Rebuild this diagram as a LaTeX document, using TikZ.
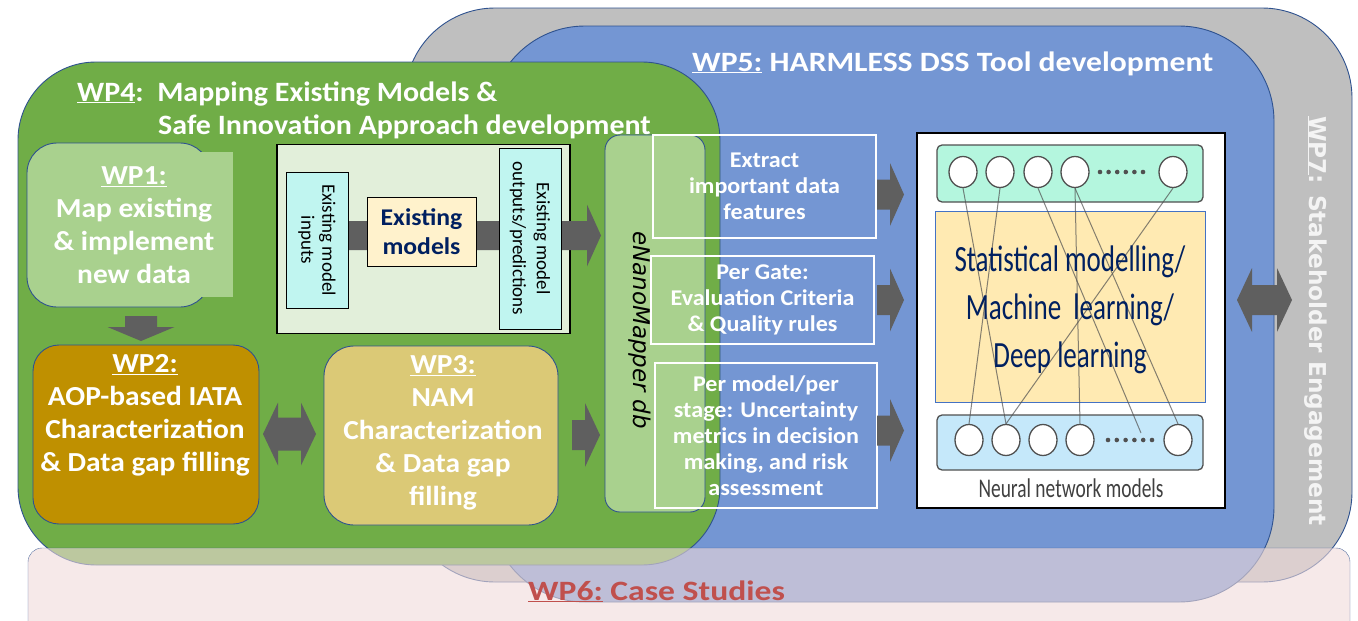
\documentclass[tikz,border=0pt]{standalone}
\usepackage{fontspec}
\setmainfont{Carlito}
\newfontfamily\cbw{Carlito}[FakeStretch=1.07]
\newfontfamily\cbt{Carlito}[FakeStretch=1.13]
\newfontfamily\cbr{Carlito}[FakeStretch=1.2]
\newfontfamily\dejavu{DejaVu Sans}
\usetikzlibrary{calc,shapes.geometric}

\definecolor{grayfill}{RGB}{191,191,191}
\definecolor{bluefill}{RGB}{116,150,211}
\definecolor{greenfill}{RGB}{112,173,71}
\definecolor{lightgreen}{RGB}{169,209,142}
\definecolor{wp2gold}{RGB}{191,144,0}
\definecolor{wp3fill}{RGB}{219,201,118}
\definecolor{panelfill}{RGB}{226,239,218}
\definecolor{cyanfill}{RGB}{192,245,240}
\definecolor{modelfill}{RGB}{255,242,204}
\definecolor{navy}{RGB}{0,32,96}
\definecolor{arrowgray}{RGB}{95,95,95}
\definecolor{bordblue}{RGB}{47,82,143}
\definecolor{pinkfill}{RGB}{240,218,218}
\definecolor{wp6red}{RGB}{192,80,77}
\definecolor{wp7text}{RGB}{244,244,244}
\definecolor{topbarfill}{RGB}{180,246,222}
\definecolor{botbarfill}{RGB}{197,232,250}
\definecolor{midfill}{RGB}{255,234,178}
\definecolor{midedge}{RGB}{68,114,196}
\definecolor{nnedge}{RGB}{80,80,80}
\definecolor{nntext}{RGB}{64,64,64}

\newcommand\myfs[2]{\fontsize{#1}{#2}\selectfont}
\newcommand\blockR[5]{\fill[arrowgray] ($(#1)+(0,-#4)$) -- ($(#2)+(-#3,-#4)$) -- ($(#2)+(-#3,-#5)$) -- (#2) -- ($(#2)+(-#3,#5)$) -- ($(#2)+(-#3,#4)$) -- ($(#1)+(0,#4)$) -- cycle;}
\newcommand\blockD[5]{\fill[arrowgray] ($(#1)+(-#4,0)$) -- ($(#2)+(-#4,-#3)$) -- ($(#2)+(-#5,-#3)$) -- (#2) -- ($(#2)+(#5,-#3)$) -- ($(#2)+(#4,-#3)$) -- ($(#1)+(#4,0)$) -- cycle;}
\newcommand\blockLR[5]{\fill[arrowgray] (#1) -- ($(#1)+(#3,-#5)$) -- ($(#1)+(#3,-#4)$) -- ($(#2)+(-#3,-#4)$) -- ($(#2)+(-#3,-#5)$) -- (#2) -- ($(#2)+(-#3,#5)$) -- ($(#2)+(-#3,#4)$) -- ($(#1)+(#3,#4)$) -- ($(#1)+(#3,#5)$) -- cycle;}

\begin{document}
\begin{tikzpicture}[x=1pt,y=-1pt,
  wpbox/.style={draw=bordblue, line width=0.9pt, inner sep=0pt},
  whitebox/.style={draw=white, line width=1.3pt, inner sep=0pt, text=white, font=\cbw\bfseries\myfs{22.5}{26}, align=center},
  cyanbox/.style={draw=black, line width=1pt, fill=cyanfill, inner sep=0pt, align=center},
  wptext/.style={text=white, font=\cbw\bfseries\myfs{27.5}{33}, align=center, inner sep=0pt},
  titletext/.style={text=white, font=\cbw\bfseries\myfs{28}{33}, anchor=base west, inner sep=0pt},
  nncirc/.style={ellipse, draw=nnedge, line width=1.3pt, fill=white, minimum width=28pt, minimum height=31pt, inner sep=0pt},
  nnbar/.style={draw=nnedge, line width=1.3pt, rounded corners=5pt, minimum width=266pt, inner sep=0pt},
  nnline/.style={draw=nnedge, draw opacity=0.7, line width=1pt}
]
\useasboundingbox (0,0) rectangle (1358,621);

% big work-package areas
\node[wpbox, fill=grayfill, rounded corners=90pt, minimum width=947pt, minimum height=574pt] (wp7) at (878.5,295) {};
\node[wpbox, fill=bluefill, rounded corners=95pt, minimum width=784pt, minimum height=576pt] (wp5) at (882,314) {};
\node[wpbox, fill=greenfill, rounded corners=78pt, minimum width=702pt, minimum height=503pt] (wp4) at (369,313.5) {};

% titles
\node[titletext, font=\cbt\bfseries\myfs{28}{33}] (wp5t) at (692,71) {\underline{WP5:} HARMLESS DSS Tool development};
\node[titletext] (wp4ta) at (77,101) {\underline{WP4}:\ \ Mapping Existing Models \&};
\node[titletext] (wp4tb) at (158,134) {Safe Innovation Approach development};
\node[rotate=-90, text=wp7text, font=\dejavu\bfseries\myfs{23.2}{28}, inner sep=0pt] (wp7t) at (1316,321) {\underline{WP7}: Stakeholder Engagement};

% WP1
\node[wpbox, fill=lightgreen, rounded corners=30pt, minimum width=183pt, minimum height=164pt] (wp1) at (118.5,225) {};
\fill[lightgreen] ($(wp1.north east)+(-9,9)$) rectangle ($(wp1.south east)+(23,-10)$);
\node[wptext] (wp1t) at (134,225) {\underline{WP1:}\\Map existing\\\& implement\\new data};

% WP2 / WP3
\node[wpbox, fill=wp2gold, rounded corners=26pt, minimum width=226pt, minimum height=179pt] (wp2) at (146,434.5) {};
\node[wptext] (wp2t) at (145,415) {\underline{WP2:}\\AOP-based IATA\\Characterization\\\& Data gap filling};
\node[wpbox, fill=wp3fill, rounded corners=30pt, minimum width=234pt, minimum height=179pt] (wp3) at (441,435.5) {};
\node[wptext] (wp3t) at (443,433) {\underline{WP3:}\\NAM\\Characterization\\\& Data gap\\filling};

\coordinate (d1) at (141,316); \coordinate (d2) at (141,341);
\blockD{d1}{d2}{14}{16}{33.5}
\coordinate (l1) at (263,434); \coordinate (r1) at (316,434);
\blockLR{l1}{r1}{15}{16.5}{31.5}
\coordinate (c1s) at (572,435); \coordinate (c1t) at (600,435);
\blockR{c1s}{c1t}{15}{15}{32}

% existing models panel
\node[draw=black, line width=1.2pt, fill=panelfill, minimum width=293pt, minimum height=189pt, inner sep=0pt] (panel) at (423.5,239) {};
\coordinate (ps) at (348,235.5); \coordinate (pt) at (601,235.5);
\blockR{ps}{pt}{14}{14.5}{31}
\node[cyanbox, rotate=-90, minimum width=136pt, minimum height=62pt, font=\myfs{19}{21}] (inp) at (317,240) {Existing model\\inputs};
\node[draw=black, line width=1pt, fill=modelfill, minimum width=109pt, minimum height=69pt, text=navy, font=\cbw\bfseries\myfs{24}{29}, align=center, inner sep=0pt] (exm) at (421.5,231.5) {Existing\\models};
\node[cyanbox, rotate=-90, minimum width=181pt, minimum height=62pt, font=\myfs{19}{24}] (outp) at (530,238.5) {Existing model\\outputs/predictions};

% eNanoMapper
\node[wpbox, fill=lightgreen, rounded corners=15pt, minimum width=100pt, minimum height=377pt] (enm) at (655,323.5) {};
\node[rotate=-90, font=\dejavu\itshape\myfs{23}{27}, inner sep=0pt] (enmt) at (640,330) {eNanoMapper db};

% feature boxes
\node[whitebox, minimum width=223pt, minimum height=103pt] (f1) at (764.5,186.5) {Extract\\important data\\features};
\node[whitebox, minimum width=223pt, minimum height=88pt] (f2) at (762.5,300) {Per Gate:\\Evaluation Criteria\\\& Quality rules};
\node[whitebox, minimum width=222pt, minimum height=145pt] (f3) at (766,435.5) {Per model/per\\stage: Uncertainty\\metrics in decision\\making, and risk\\assessment};

\coordinate (e1s) at (877,194.5); \coordinate (e1t) at (904,194.5);
\coordinate (e2s) at (877,300); \coordinate (e2t) at (904,300);
\coordinate (e3s) at (877,430.5); \coordinate (e3t) at (904,430.5);
\blockR{e1s}{e1t}{14}{15}{31.5}
\blockR{e2s}{e2t}{14}{15}{31.5}
\blockR{e3s}{e3t}{14}{15}{31.5}

% neural network panel
\node[draw=black, line width=1.5pt, fill=white, minimum width=308pt, minimum height=375pt, inner sep=0pt] (nn) at (1071,320.5) {};
\node[nnbar, fill=topbarfill, minimum height=57pt] (topbar) at (1070,173.5) {};
\node[draw=midedge, line width=1pt, fill=midfill, minimum width=270pt, minimum height=191pt, inner sep=0pt] (mid) at (1070,306.5) {};
\node[nnbar, fill=botbarfill, minimum height=55pt] (botbar) at (1070,442.5) {};
\node[nncirc] (t1) at (963,172) {};
\node[nncirc] (t2) at (1000,172) {};
\node[nncirc] (t3) at (1038,172) {};
\node[nncirc] (t4) at (1075,172) {};
\node[nncirc] (t5) at (1173,172) {};
\node[nncirc] (b1) at (969,440) {};
\node[nncirc] (b2) at (1006,440) {};
\node[nncirc] (b3) at (1043,440) {};
\node[nncirc] (b4) at (1080,440) {};
\node[nncirc] (b5) at (1178,440) {};
\foreach \i in {0,...,5} {
  \fill[nnedge] (1100+\i*8.6,172) circle (2.3pt);
  \fill[nnedge] (1108+\i*8.8,440) circle (2.3pt);
}
\coordinate (bdots) at (1141,433);
\draw[nnline] (t1.south) -- (b2.north);
\draw[nnline] (t2.south) -- (b1.north);
\draw[nnline] (t3.south) -- (bdots);
\draw[nnline] (t4.south) -- (b4.north);
\draw[nnline] (t4.south) -- (b5.north);
\draw[nnline] (t5.south) -- (b2.north);
\node[text=navy, inner sep=0pt] (midt) at (1070,310) {\scalebox{0.73}[1]{\myfs{37}{48}\begin{tabular}{@{}c@{}}Statistical modelling/\\Machine\ \ learning/\\Deep learning\end{tabular}}};
\node[text=nntext, inner sep=0pt] (nnlab) at (1071,488) {\scalebox{0.72}[1]{\myfs{27}{30}Neural network models}};

\coordinate (h1) at (1237,300); \coordinate (h2) at (1292,300);
\blockLR{h1}{h2}{15}{15}{32}

% WP6 band
\node[draw=bordblue, draw opacity=0.8, fill=pinkfill, fill opacity=0.6, rounded corners=14pt, minimum width=1322pt, minimum height=100pt, inner sep=0pt] (wp6) at (689,598) {};
\node[titletext, text=wp6red, font=\cbr\bfseries\myfs{28}{33}] (wp6t) at (528,600) {\underline{WP6:} Case Studies};
\end{tikzpicture}
\end{document}
